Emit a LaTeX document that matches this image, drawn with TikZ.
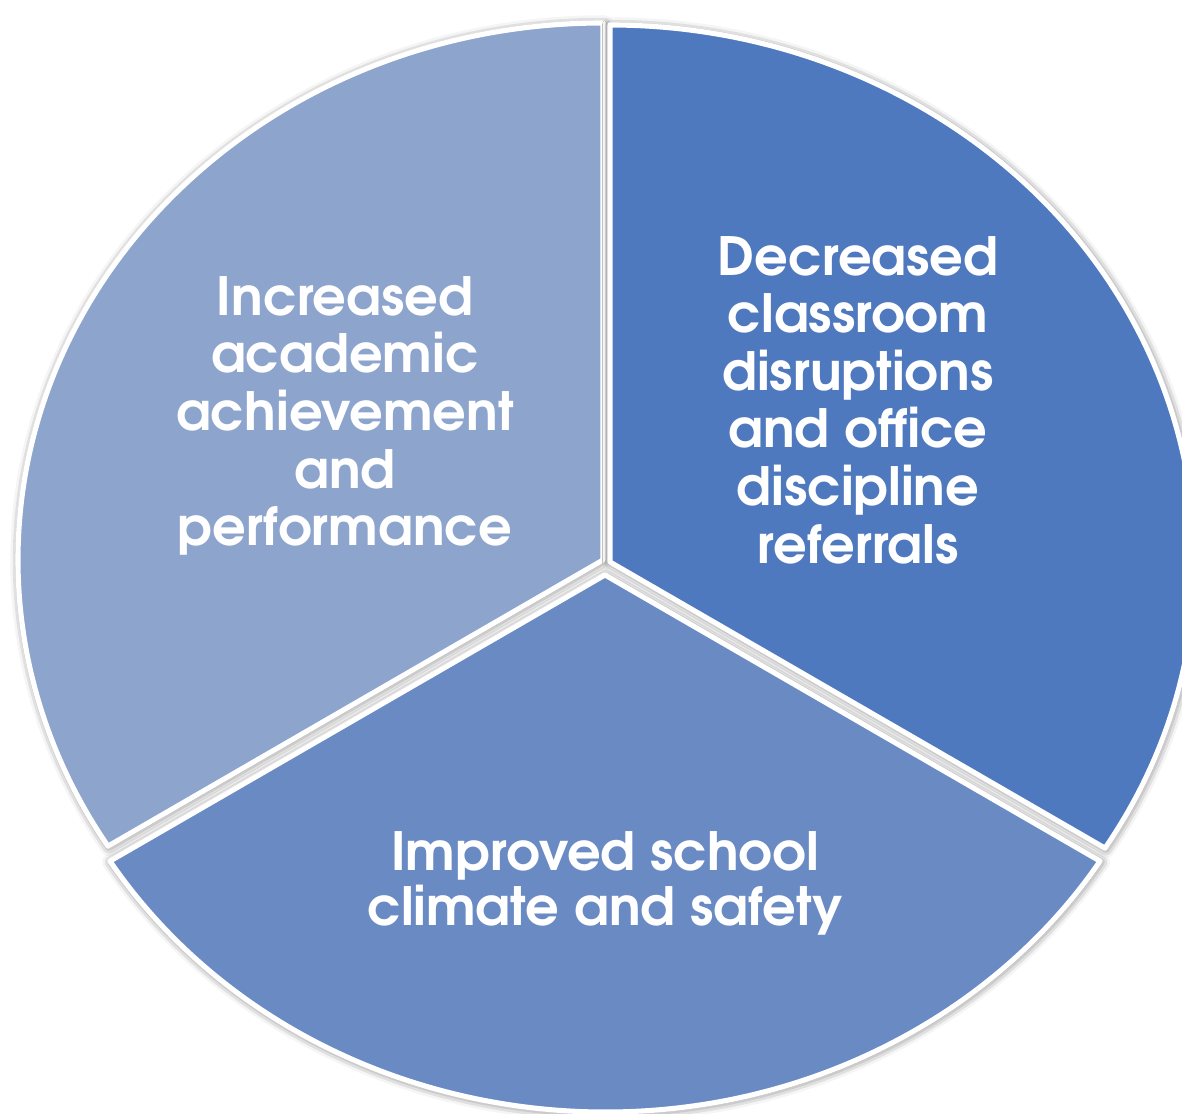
\documentclass[tikz,border=0pt]{standalone}
\usepackage{fontspec}
\setmainfont{TeX Gyre Adventor}
\usetikzlibrary{shadows.blur}
\definecolor{sliceA}{HTML}{8DA4CD}
\definecolor{sliceB}{HTML}{4F79BE}
\definecolor{sliceC}{HTML}{6A8AC4}
\begin{document}
\begin{tikzpicture}[x=0.02cm,y=0.02cm,
  slice/.style={draw=white, line width=2.9pt, line join=round,
    blur shadow={shadow xshift=0.6pt, shadow yshift=-0.6pt, shadow blur radius=5pt, shadow opacity=65}},
  lbl/.style={text=white, align=center, inner sep=0pt, font=\bfseries\fontsize{30}{32.8}\selectfont},
  lblb/.style={text=white, align=center, inner sep=0pt, font=\bfseries\fontsize{30}{31.4}\selectfont}]
\useasboundingbox (0,0) rectangle (1182,1114);
\coordinate (cL) at (603,554);
\coordinate (cR) at (610,552);
\coordinate (cB) at (605,539);
\path[slice, fill=sliceA] (cL) -- ++(90:585 and 537) arc[start angle=90, end angle=212.2, x radius=585, y radius=537] -- cycle;
\path[slice, fill=sliceB] (cR) -- ++(-32.2:585 and 537) arc[start angle=-32.2, end angle=90, x radius=585, y radius=537] -- cycle;
\path[slice, fill=sliceC] (cB) -- ++(212.2:585 and 537) arc[start angle=212.2, end angle=327.8, x radius=585, y radius=537] -- cycle;
\node[lbl] (tR) at (858,714) {Decreased\\classroom\\disruptions\\and office\\discipline\\referrals};
\node[lbl] (tL) at (345,698) {Increased\\academic\\achievement\\and\\performance};
\node[lblb] (tB) at (605,231) {Improved school\\climate and safety};
\end{tikzpicture}
\end{document}
